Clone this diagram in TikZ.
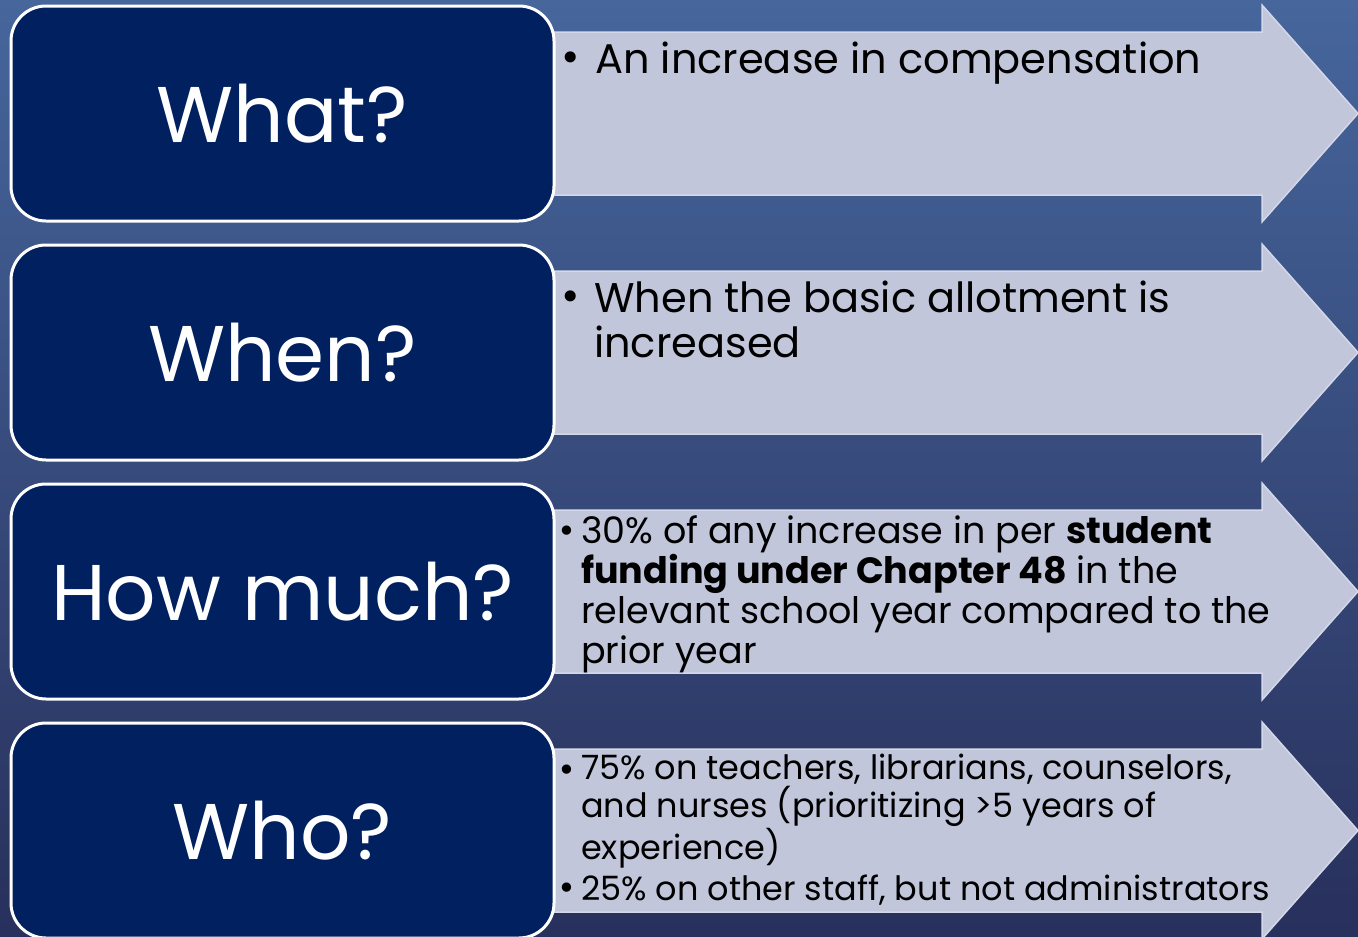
\documentclass[tikz,border=0pt]{standalone}
\usepackage{fontspec}
\setmainfont{Poppins}
\newfontfamily\bulletfont{DejaVu Sans}
\definecolor{bgtop}{RGB}{70,102,156}
\definecolor{bgbot}{RGB}{40,48,92}
\definecolor{boxfill}{RGB}{0,32,96}
\definecolor{arrfill}{RGB}{193,198,219}
\definecolor{arredge}{RGB}{212,216,232}
\tikzset{
  arrowshape/.style={fill=arrfill, draw=arredge, line width=1.5pt, line join=miter},
  labelbox/.style={draw=white, line width=3pt, fill=boxfill, rounded corners=35pt,
    minimum width=543pt, minimum height=215pt, inner sep=0pt, text=white,
    font=\fontsize{79}{79}\selectfont},
  bigtext/.style={anchor=base west, align=left, inner sep=0pt, text=black,
    font=\fontsize{41.5}{45}\selectfont},
  midtext/.style={anchor=base west, align=left, inner sep=0pt, text=black,
    font=\fontsize{36.5}{40}\selectfont},
  smalltext/.style={anchor=base west, align=left, inner sep=0pt, text=black,
    font=\fontsize{33.5}{38.5}\selectfont},
  bigbullet/.style={anchor=base west, inner sep=0pt, text=black,
    font=\bulletfont\fontsize{38}{38}\selectfont},
  smallbullet/.style={anchor=base west, inner sep=0pt, text=black,
    font=\bulletfont\fontsize{32}{32}\selectfont},
}
\begin{document}
\begin{tikzpicture}[x=1pt,y=-1pt]
\shade[top color=bgtop, bottom color=bgbot] (0,0) rectangle (1358,937);
\useasboundingbox (0,0) rectangle (1358,937);
% arrows
\foreach \y in {5,244,483,722}{
  \draw[arrowshape] (540,\y+27) -- (1262,\y+27) -- (1262,\y) -- (1358,\y+108.5)
    -- (1262,\y+217) -- (1262,\y+190) -- (540,\y+190) -- cycle;
}
% boxes
\node[labelbox] (what) at (282.5,113.5) {What?};
\node[labelbox] (when) at (282.5,352.5) {When?};
\node[labelbox] (howmuch) at (282.5,591.5) {How much?};
\node[labelbox] (who) at (282.5,830.5) {Who?};
% texts (anchor = baseline of the last line)
\node[bigbullet] (b1) at (559,71) {•};
\node[bigtext] (t1) at (595,73) {An increase in compensation};
\node[bigbullet] (b2) at (559,310) {•};
\node[bigtext] (t2) at (594,357) {When the basic allotment is\\increased};
\node[smallbullet] (b3) at (557,542) {•};
\node[midtext] (t3) at (581,663) {30\% of any increase in per \textbf{student}\\\textbf{funding under Chapter 48} in the\\relevant school year compared to the\\prior year};
\node[smallbullet] (b4) at (557,781) {•};
\node[smalltext] (t4) at (581,859) {75\% on teachers, librarians, counselors,\\and nurses (prioritizing >5 years of\\experience)};
\node[smallbullet] (b5) at (557,899) {•};
\node[smalltext] (t5) at (581,900) {25\% on other staff, but not administrators};
\end{tikzpicture}
\end{document}
